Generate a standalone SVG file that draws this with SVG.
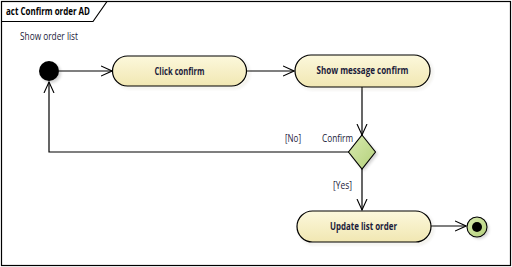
<svg xmlns="http://www.w3.org/2000/svg" width="512" height="267" viewBox="0 0 512 267">
  <style>
    .frame { fill: none; stroke: #000; stroke-width: 1.2; }
    .action rect { fill: url(#actionFill); stroke: #000; stroke-width: 1.2; }
    .label { font-family: "Open Sans", "Liberation Sans", sans-serif; font-size: 10px; fill: #1b1b3a; }
    .name { font-family: "Open Sans", "Liberation Sans", sans-serif; font-size: 10px; font-weight: bold; fill: #1b1b3a; }
    .edge { fill: none; stroke: #000; stroke-width: 1.2; }
    .shadow { fill: #000; opacity: 0.18; filter: url(#blur); }
  </style>
  <defs>
    <linearGradient id="actionFill" x1="0" y1="0" x2="0" y2="1">
      <stop offset="0" stop-color="#fcf8dc"/>
      <stop offset="1" stop-color="#f1e7b2"/>
    </linearGradient>
    <linearGradient id="greenFill" x1="0" y1="0" x2="1" y2="1">
      <stop offset="0" stop-color="#d9eab0"/>
      <stop offset="1" stop-color="#b3d07a"/>
    </linearGradient>
    <filter id="blur" x="-20%" y="-20%" width="140%" height="140%">
      <feGaussianBlur stdDeviation="1.5"/>
    </filter>
    <marker id="open" viewBox="0 0 12 12" refX="11" refY="6" markerWidth="12" markerHeight="12" markerUnits="userSpaceOnUse" orient="auto">
      <path d="M0,1 L11,6 L0,11" fill="none" stroke="#000" stroke-width="1.1"/>
    </marker>
  </defs>

  <!-- activity frame with its name tab -->
  <g id="frame">
    <rect class="frame" x="1.5" y="1.5" width="509" height="264"/>
    <path class="frame" d="M1.5,21.5 H93 L107,1.5"/>
    <text class="name" x="6" y="15" style="fill:#000" textLength="84" lengthAdjust="spacingAndGlyphs">act Confirm order AD</text>
  </g>

  <!-- control flows -->
  <g id="connectors">
    <line class="edge" x1="59" y1="71" x2="112" y2="71" marker-end="url(#open)"/>
    <line class="edge" x1="247" y1="71" x2="294" y2="71" marker-end="url(#open)"/>
    <line class="edge" x1="362" y1="87" x2="362" y2="135" marker-end="url(#open)"/>
    <polyline class="edge" points="349,152 49,152 49,82" marker-end="url(#open)"/>
    <line class="edge" x1="362" y1="169" x2="362" y2="210" marker-end="url(#open)"/>
    <line class="edge" x1="431" y1="226" x2="466" y2="226" marker-end="url(#open)"/>
    <text class="label" x="285" y="142" textLength="16" lengthAdjust="spacingAndGlyphs">[No]</text>
    <text class="label" x="322" y="142" textLength="31" lengthAdjust="spacingAndGlyphs">Confirm</text>
    <text class="label" x="333" y="189" textLength="19" lengthAdjust="spacingAndGlyphs">[Yes]</text>
  </g>

  <g id="start">
    <circle class="shadow" cx="51" cy="73" r="10"/>
    <circle cx="49" cy="71" r="10" fill="#000"/>
    <text class="label" x="20" y="40" textLength="58" lengthAdjust="spacingAndGlyphs">Show order list</text>
  </g>

  <g id="click-confirm" class="action">
    <rect class="shadow" x="115" y="58" width="134" height="30" rx="15"/>
    <rect x="112.5" y="56" width="134" height="30" rx="15"/>
    <text class="name" x="154.5" y="75" textLength="50" lengthAdjust="spacingAndGlyphs">Click confirm</text>
  </g>

  <g id="show-message-confirm" class="action">
    <rect class="shadow" x="297" y="57" width="135" height="32" rx="16"/>
    <rect x="295" y="55" width="135" height="32" rx="16"/>
    <text class="name" x="316.5" y="74" textLength="92" lengthAdjust="spacingAndGlyphs">Show message confirm</text>
  </g>

  <g id="decision">
    <polygon class="shadow" points="364,137 378,154 364,171 350,154"/>
    <polygon points="362,135 375.5,152 362,169 348.5,152" fill="url(#greenFill)" stroke="#000" stroke-width="1.1"/>
  </g>

  <g id="update-list-order" class="action">
    <rect class="shadow" x="299" y="213" width="134" height="31" rx="15.5"/>
    <rect x="297" y="211" width="134" height="31" rx="15.5"/>
    <text class="name" x="330" y="230" textLength="67" lengthAdjust="spacingAndGlyphs">Update list order</text>
  </g>

  <g id="end">
    <circle class="shadow" cx="479" cy="229" r="10"/>
    <circle cx="477" cy="227" r="10" fill="url(#greenFill)" stroke="#000" stroke-width="1.1"/>
    <circle cx="477" cy="227" r="5" fill="#000"/>
  </g>
</svg>
